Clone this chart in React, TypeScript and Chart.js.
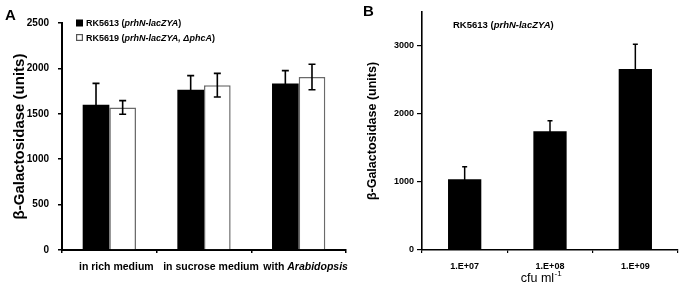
import React, { useEffect, useRef } from "react";
import { Chart, registerables } from "chart.js";

Chart.register(...registerables);

const FONT = "'Liberation Sans', Arial, Helvetica, sans-serif";

type Part = { t: string; i?: boolean };

// ---------- Panel A data ----------
const conditionsA = ["in rich medium", "in sucrose medium", "with Arabidopsis"];
const conditionPartsA: Part[][] = [
  [{ t: "in rich medium" }],
  [{ t: "in sucrose medium" }],
  [{ t: "with " }, { t: "Arabidopsis", i: true }],
];
const rk5613Values = [1600, 1765, 1835];
const rk5613Errors = [235, 155, 140];
const rk5619Values = [1570, 1815, 1905];
const rk5619Errors = [75, 130, 140];
const yTicksA = [0, 500, 1000, 1500, 2000, 2500];
const yMaxA = 2500;
const legendA: Part[][] = [
  [{ t: "RK5613 (" }, { t: "prhN-lacZYA", i: true }, { t: ")" }],
  [{ t: "RK5619 (" }, { t: "prhN-lacZYA, ΔphcA", i: true }, { t: ")" }],
];
const yTitle = "β-Galactosidase (units)";

// ---------- Panel B data ----------
const densitiesB = ["1.E+07", "1.E+08", "1.E+09"];
const valuesB = [1040, 1745, 2660];
const errorsB = [185, 155, 365];
const yTicksB = [0, 1000, 2000, 3000];
const yMaxB = 3500;
const titleB: Part[] = [{ t: "RK5613 (" }, { t: "prhN-lacZYA", i: true }, { t: ")" }];

function drawRich(
  ctx: CanvasRenderingContext2D,
  parts: Part[],
  x: number,
  y: number,
  size: number,
  weight: string,
  align: "left" | "center"
) {
  const fontOf = (p: Part) => `${p.i ? "italic " : ""}${weight} ${size}px ${FONT}`;
  const widths = parts.map((p) => {
    ctx.font = fontOf(p);
    return ctx.measureText(p.t).width;
  });
  const total = widths.reduce((a, b) => a + b, 0);
  let cx = align === "center" ? x - total / 2 : x;
  ctx.textAlign = "left";
  ctx.textBaseline = "alphabetic";
  ctx.fillStyle = "#000";
  parts.forEach((p, k) => {
    ctx.font = fontOf(p);
    ctx.fillText(p.t, cx, y);
    cx += widths[k];
  });
}

function errorBarPlugin(lineWidth: number, cap: number) {
  return {
    id: "errbars",
    afterDatasetsDraw(chart: any) {
      const ctx = chart.ctx as CanvasRenderingContext2D;
      const ys = chart.scales.y;
      chart.data.datasets.forEach((ds: any, di: number) => {
        const errs = ds.errors as number[] | undefined;
        if (!errs) return;
        const meta = chart.getDatasetMeta(di);
        meta.data.forEach((el: any, i: number) => {
          const v = ds.data[i] as number;
          const e = errs[i];
          const top = ys.getPixelForValue(v + e);
          const bot = ys.getPixelForValue(v - e);
          ctx.save();
          ctx.strokeStyle = "#000";
          ctx.lineWidth = lineWidth;
          ctx.beginPath();
          ctx.moveTo(el.x, top);
          ctx.lineTo(el.x, bot);
          ctx.moveTo(el.x - cap, top);
          ctx.lineTo(el.x + cap, top);
          ctx.moveTo(el.x - cap, bot);
          ctx.lineTo(el.x + cap, bot);
          ctx.stroke();
          ctx.restore();
        });
      });
    },
  };
}

const textPluginA = {
  id: "textA",
  afterDraw(chart: any) {
    const ctx = chart.ctx as CanvasRenderingContext2D;
    const xs = chart.scales.x;
    const area = chart.chartArea;
    ctx.save();
    drawRich(ctx, [{ t: "A" }], 5, 20, 15, "bold", "left");
    conditionPartsA.forEach((parts, i) => {
      drawRich(ctx, parts, xs.getPixelForValue(i) + 7, 269.5, 10.5, "bold", "center");
    });
    const lx = area.left + 14;
    const rows = [26, 40.5];
    legendA.forEach((parts, k) => {
      const by = rows[k];
      if (k === 0) {
        ctx.fillStyle = "#000";
        ctx.fillRect(lx, by - 6.5, 7, 7);
      } else {
        ctx.fillStyle = "#fff";
        ctx.fillRect(lx, by - 6.5, 7, 7);
        ctx.strokeStyle = "#555";
        ctx.lineWidth = 1.2;
        ctx.strokeRect(lx + 0.6, by - 5.9, 5.8, 5.8);
      }
      drawRich(ctx, parts, lx + 10, by, 9, "bold", "left");
    });
    ctx.restore();
  },
};

const textPluginB = {
  id: "textB",
  afterDraw(chart: any) {
    const ctx = chart.ctx as CanvasRenderingContext2D;
    const xs = chart.scales.x;
    const area = chart.chartArea;
    ctx.save();
    drawRich(ctx, [{ t: "B" }], 1, 16, 15, "bold", "left");
    densitiesB.forEach((lab, i) => {
      drawRich(ctx, [{ t: lab }], xs.getPixelForValue(i), 268.5, 9, "bold", "center");
    });
    drawRich(ctx, titleB, area.left + 31, 28, 9.5, "bold", "left");
    ctx.font = `normal 12.5px ${FONT}`;
    const w1 = ctx.measureText("cfu ml").width;
    ctx.font = `normal 8px ${FONT}`;
    const w2 = ctx.measureText("-1").width;
    const cx = (area.left + area.right) / 2 - 9 - (w1 + w2) / 2;
    ctx.fillStyle = "#000";
    ctx.textAlign = "left";
    ctx.textBaseline = "alphabetic";
    ctx.font = `normal 12.5px ${FONT}`;
    ctx.fillText("cfu ml", cx, 281.5);
    ctx.font = `normal 8px ${FONT}`;
    ctx.fillText("-1", cx + w1 + 0.5, 276);
    ctx.restore();
  },
};

const plainTick = (v: any) => String(v);

function makeChartA(canvas: HTMLCanvasElement) {
  return new Chart(canvas, {
    type: "bar",
    data: {
      labels: conditionsA,
      datasets: [
        {
          label: "RK5613",
          data: rk5613Values,
          errors: rk5613Errors,
          backgroundColor: "#000",
          borderColor: "#000",
          borderWidth: 0,
        } as any,
        {
          label: "RK5619",
          data: rk5619Values,
          errors: rk5619Errors,
          backgroundColor: "#fff",
          borderColor: "#6a6a6a",
          borderWidth: 1.5,
        } as any,
      ],
    },
    options: {
      responsive: false,
      animation: false,
      devicePixelRatio: 1,
      layout: { padding: { left: 0, right: 16, top: 23, bottom: 0 } },
      plugins: { legend: { display: false }, tooltip: { enabled: false } },
      datasets: { bar: { categoryPercentage: 0.563, barPercentage: 1 } },
      scales: {
        x: {
          offset: true,
          grid: { offset: true, drawOnChartArea: false, drawTicks: true, tickLength: 3, color: "#000", lineWidth: 1.5 },
          border: { color: "#000", width: 2 },
          ticks: { display: false },
          afterFit: (s: any) => {
            s.height = 34;
          },
        },
        y: {
          min: 0,
          max: yMaxA,
          afterBuildTicks: (s: any) => {
            s.ticks = yTicksA.map((v) => ({ value: v }));
          },
          grid: { drawOnChartArea: false, drawTicks: true, tickLength: 4, color: "#000", lineWidth: 1.5 },
          border: { color: "#000", width: 2 },
          ticks: { padding: 9, color: "#000", font: { size: 10, weight: "bold", family: FONT }, callback: plainTick },
          title: {
            display: true,
            text: yTitle,
            color: "#000",
            font: { size: 15, weight: "bold", family: FONT },
            padding: { top: 11, bottom: 0 },
          },
          afterFit: (s: any) => {
            s.width = 62;
          },
        },
      },
    } as any,
    plugins: [errorBarPlugin(1.6, 3.5), textPluginA],
  });
}

function makeChartB(canvas: HTMLCanvasElement) {
  return new Chart(canvas, {
    type: "bar",
    data: {
      labels: densitiesB,
      datasets: [
        {
          label: "RK5613",
          data: valuesB,
          errors: errorsB,
          backgroundColor: "#000",
          borderColor: "#000",
          borderWidth: 0,
        } as any,
      ],
    },
    options: {
      responsive: false,
      animation: false,
      devicePixelRatio: 1,
      layout: { padding: { left: 0, right: 2, top: 12, bottom: 0 } },
      plugins: { legend: { display: false }, tooltip: { enabled: false } },
      datasets: { bar: { categoryPercentage: 0.39, barPercentage: 1 } },
      scales: {
        x: {
          offset: true,
          grid: { offset: true, drawOnChartArea: false, drawTicks: true, tickLength: 3, color: "#000", lineWidth: 1.2 },
          border: { color: "#000", width: 1.6 },
          ticks: { display: false },
          afterFit: (s: any) => {
            s.height = 34;
          },
        },
        y: {
          min: 0,
          max: yMaxB,
          afterBuildTicks: (s: any) => {
            s.ticks = yTicksB.map((v) => ({ value: v }));
          },
          grid: { drawOnChartArea: false, drawTicks: true, tickLength: 5, color: "#000", lineWidth: 1.2 },
          border: { color: "#000", width: 1.6 },
          ticks: { padding: 3, color: "#000", font: { size: 9, weight: "bold", family: FONT }, callback: plainTick },
          title: {
            display: true,
            text: yTitle,
            color: "#000",
            font: { size: 12.5, weight: "bold", family: FONT },
            padding: { top: 3.5, bottom: 0 },
          },
          afterFit: (s: any) => {
            s.width = 60;
          },
        },
      },
    } as any,
    plugins: [errorBarPlugin(1.5, 2.5), textPluginB],
  });
}

function ChartCanvas(props: {
  left: number;
  width: number;
  height: number;
  make: (c: HTMLCanvasElement) => Chart;
}) {
  const ref = useRef<HTMLCanvasElement | null>(null);
  useEffect(() => {
    if (!ref.current) return;
    const chart = props.make(ref.current);
    return () => chart.destroy();
  }, []);
  return (
    <canvas
      ref={ref}
      width={props.width}
      height={props.height}
      style={{ position: "absolute", left: props.left, top: 0, width: props.width, height: props.height }}
    />
  );
}

export default function App() {
  return (
    <div style={{ position: "absolute", left: 0, top: 0, width: 680, height: 284, background: "#fff", overflow: "hidden" }}>
      <ChartCanvas left={0} width={362} height={284} make={makeChartA} />
      <ChartCanvas left={362} width={318} height={284} make={makeChartB} />
    </div>
  );
}
